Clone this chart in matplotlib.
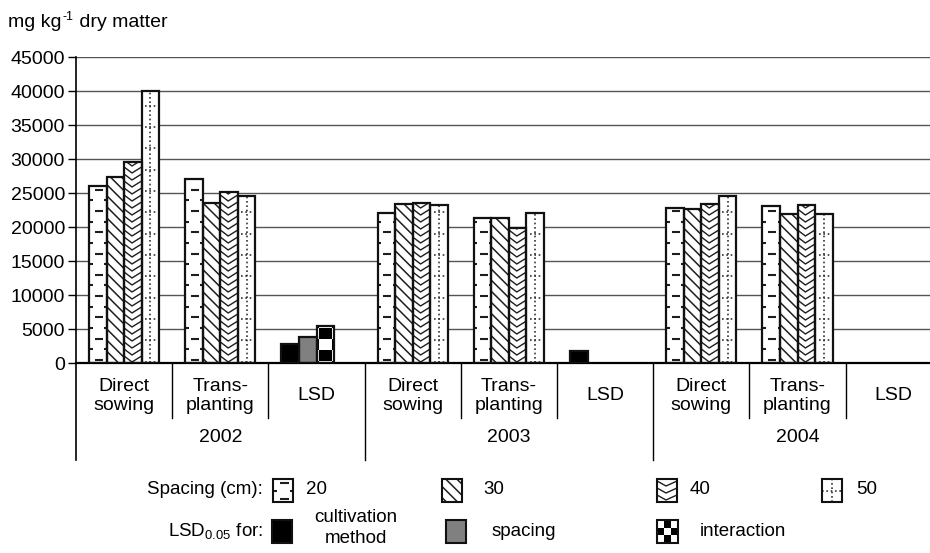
import numpy as np
import matplotlib
matplotlib.use("Agg")
import matplotlib.pyplot as plt
from matplotlib.patches import Rectangle
from matplotlib.collections import LineCollection
from matplotlib.transforms import IdentityTransform, blended_transform_factory, offset_copy

plt.rcParams['font.family'] = ['Liberation Sans', 'DejaVu Sans']
plt.rcParams['mathtext.fontset'] = 'custom'
plt.rcParams['mathtext.rm'] = 'Liberation Sans'
plt.rcParams['mathtext.it'] = 'Liberation Sans:italic'
plt.rcParams['hatch.linewidth'] = 1.1

nan = np.nan
# ---------------- data ----------------
years = ['2002', '2003', '2004']
categories = ['Direct\nsowing', 'Trans-\nplanting', 'LSD'] * 3
spacing_labels = ['20', '30', '40', '50']
s20 = [26000, 27100, nan, 22100, 21300, nan, 22800, 23100, nan]
s30 = [27300, 23500, nan, 23400, 21300, nan, 22600, 21900, nan]
s40 = [29500, 25100, nan, 23600, 19900, nan, 23400, 23200, nan]
s50 = [40000, 24600, nan, 23200, 22100, nan, 24500, 21900, nan]
lsd_labels = ['cultivation\nmethod', 'spacing', 'interaction']
lsd_cultivation = [2800, 1700, nan]   # per year
lsd_spacing = [3800, nan, nan]
lsd_interaction = [5400, nan, nan]
yticks = list(range(0, 45001, 5000))

# ---------------- layout ----------------
W, H = 930, 553
fig = plt.figure(figsize=(W / 100, H / 100), dpi=100)
ax_l, ax_r, y_zero, y_top = 76, 930, 363, 57
ax = fig.add_axes([ax_l / W, (H - y_zero) / H, (ax_r - ax_l) / W, (y_zero - y_top) / H])
cat_px = 96.2
ax.set_xlim(0, (ax_r - ax_l) / cat_px)
ax.set_ylim(0, 45000)

ax.set_axisbelow(True)
ax.yaxis.grid(True, color='#555555', linewidth=1.0)
ax.set_yticks(yticks)
ax.set_yticklabels([str(v) for v in yticks])
ax.tick_params(axis='y', direction='out', length=6, width=1.0, labelsize=14, pad=2, colors='black')
ax.set_xticks([])
for s in ['top', 'right']:
    ax.spines[s].set_visible(False)
ax.spines['left'].set_linewidth(1.2)
ax.spines['bottom'].set_linewidth(1.6)

EDGE = '#111111'
PAT = '#1e1e1e'
ID = IdentityTransform()


def add_lines(target, segs, clip, lw, ls='solid', color=PAT):
    lc = LineCollection(segs, transform=ID, colors=color, linewidths=lw,
                        linestyles=ls, capstyle='butt', zorder=2.5)
    target.add_artist(lc)
    lc.set_clip_path(clip)


def pat_dash(target, clip, x0, y0, x1, y1, base, period=10.65, start=3.0):
    w = x1 - x0
    segs = []
    j = 0
    y = base + start
    while y < y1 + 2:
        if j % 2 == 0:
            segs.append([(x0 + 0.33 * w, y), (x0 + 0.78 * w, y)])
        else:
            segs.append([(x0 - 0.2 * w, y), (x0 + 0.2 * w, y)])
            segs.append([(x0 + 0.86 * w, y), (x0 + 1.2 * w, y)])
        y += period
        j += 1
    add_lines(target, segs, clip, 1.5)


def pat_chevron(target, clip, x0, y0, x1, y1, base, period=7.0, amp=6.0):
    w = x1 - x0
    segs = []
    y = base - amp
    while y < y1 + 2:
        segs.append([(x0 - 2, y + amp * (0.45 * w + 2) / (0.45 * w)), (x0 + 0.45 * w, y),
                     (x1 + 2, y + amp * (0.55 * w + 2) / (0.55 * w))])
        y += period
    add_lines(target, segs, clip, 1.0)


def pat_dots(target, clip, x0, y0, x1, y1, base, period=21.3, start=1.5, vx=0.5, full=False):
    w = x1 - x0
    segs = [[(x0 + vx * w, y0), (x0 + vx * w, y1)]]
    y = base + start
    while y < y1 + 2:
        segs.append([(x0 + (0.0 if full else 0.2) * w, y), (x1, y)])
        y += period
    add_lines(target, segs, clip, 1.2, ls=(0, (1, 1.6)), color='#333333')


def pat_checker(target, clip, x0, y0, x1, y1, base, cw, ch, start):
    cx = (x0 + x1) / 2
    for k in range(-3, 4):
        yb = base + start - ch
        jj = -1
        while yb < y1 + ch:
            if (jj + k) % 2 == 0:
                r = Rectangle((cx + (k - 0.5) * cw, yb), cw, ch, transform=ID,
                              facecolor='black', edgecolor='none', zorder=2.5)
                target.add_artist(r)
                r.set_clip_path(clip)
            yb += ch
            jj += 1


# ---------------- bars ----------------
bw = 0.182
xc = np.arange(len(categories)) + 0.5
spacing_series = [s20, s30, s40, s50]
hatches = [None, '\\\\\\', None, None]
pattern_funcs = [pat_dash, None, pat_chevron, pat_dots]

for k, vals in enumerate(spacing_series):
    xs = xc + (k - 1.5) * bw
    bars = ax.bar(xs, vals, width=bw, facecolor='white', edgecolor=PAT, linewidth=0,
                  hatch=hatches[k], zorder=2)
    ax.bar(xs, vals, width=bw, fill=False, edgecolor=EDGE, linewidth=1.6, zorder=3)
    if pattern_funcs[k] is not None:
        for r, v in zip(bars.patches, vals):
            if np.isfinite(v):
                bb = r.get_window_extent()
                pattern_funcs[k](ax, r, bb.x0, bb.y0, bb.x1, bb.y1, bb.y0)

lsd_x = np.array([3 * i + 2.5 for i in range(len(years))])
lsd_series = [lsd_cultivation, lsd_spacing, lsd_interaction]
lsd_colors = ['black', '#808080', 'white']
for k, vals in enumerate(lsd_series):
    xs = lsd_x + (k - 1.5) * bw
    bars = ax.bar(xs, vals, width=bw, facecolor=lsd_colors[k], edgecolor='none', zorder=2)
    ax.bar(xs, vals, width=bw, fill=False, edgecolor=EDGE, linewidth=1.6, zorder=3)
    if k == 2:
        for r, v in zip(bars.patches, vals):
            if np.isfinite(v):
                bb = r.get_window_extent()
                pat_checker(ax, r, bb.x0, bb.y0, bb.x1, bb.y1, bb.y0, cw=12.7, ch=11.0, start=2.0)

# ---------------- category axis ----------------
bt = blended_transform_factory(ax.transData, ax.transAxes)
ax_h = y_zero - y_top


def ay(yimg):
    return (y_zero - yimg) / ax_h


for i in range(1, len(categories)):
    bottom = 460 if i % 3 == 0 else 418
    ax.plot([i, i], [0, ay(bottom)], transform=bt, color='black', lw=1.0, clip_on=False)
ax.plot([0, 0], [0, ay(460)], transform=bt, color='black', lw=1.2, clip_on=False)

for i, lab in enumerate(categories):
    ax.text(i + 0.5, ay(396), lab, transform=bt, ha='center', va='center', fontsize=14,
            linespacing=1.2, clip_on=False)
for i, yr in enumerate(years):
    ax.text(3 * i + 1.5, ay(438), yr, transform=bt, ha='center', va='center', fontsize=14,
            clip_on=False)

# y-axis unit label: "mg kg" + superscript "-1" + " dry matter"
renderer = fig.canvas.get_renderer()
t1 = fig.text(8 / W, 1 - 27 / H, 'mg kg', ha='left', va='baseline', fontsize=14)
e1 = t1.get_window_extent(renderer)
t2 = fig.text(e1.x1 + 1, H - 27 + 7, '-1', ha='left', va='baseline', fontsize=9, transform=ID)
e2 = t2.get_window_extent(renderer)
fig.text(e2.x1, H - 27, ' dry matter', ha='left', va='baseline', fontsize=14, transform=ID)

# ---------------- legend ----------------
def icon(x0i, y0i, x1i, y1i, face='white', hatch=None):
    x0, y0, x1, y1 = x0i, H - y1i, x1i, H - y0i
    r = Rectangle((x0, y0), x1 - x0, y1 - y0, transform=ID, facecolor=face,
                  edgecolor=PAT, linewidth=0, hatch=hatch, zorder=2)
    fig.add_artist(r)
    e = Rectangle((x0, y0), x1 - x0, y1 - y0, transform=ID, fill=False,
                  edgecolor=EDGE, linewidth=1.5, zorder=3)
    fig.add_artist(e)
    return r, x0, y0, x1, y1


LF = 13.5
fig.text(263 / W, 1 - 490 / H, 'Spacing (cm):', ha='right', va='center', fontsize=LF)
fig.text(263 / W, 1 - 531 / H, 'LSD$_{0.05}$ for:', ha='right', va='center', fontsize=LF)

icons_x = [273, 442, 657, 822]
texts_x = [306, 483, 690, 856]
for k in range(4):
    r, x0, y0, x1, y1 = icon(icons_x[k], 479, icons_x[k] + 20, 502, hatch=hatches[k])
    if k == 0:
        pat_dash(fig, r, x0, y0, x1, y1, y0, period=8.0, start=3.5)
    elif k == 2:
        pat_chevron(fig, r, x0, y0, x1, y1, y0, period=7.0, amp=5.0)
    elif k == 3:
        pat_dots(fig, r, x0, y0, x1, y1, (y0 + y1) / 2, period=100, start=0, vx=0.5, full=True)
    fig.text(texts_x[k] / W, 1 - 490 / H, spacing_labels[k], ha='left', va='center', fontsize=LF)

icon(272, 520, 292, 543, face='black')
icon(446, 520, 466, 543, face='#808080')
r, x0, y0, x1, y1 = icon(657, 520, 678, 543, face='white')
pat_checker(fig, r, x0, y0, x1, y1, y0, cw=7.0, ch=7.7, start=0.0)

fig.text(356 / W, 1 - 528 / H, lsd_labels[0], ha='center', va='center', fontsize=LF, linespacing=1.35)
fig.text(492 / W, 1 - 531 / H, lsd_labels[1], ha='left', va='center', fontsize=LF)
fig.text(700 / W, 1 - 531 / H, lsd_labels[2], ha='left', va='center', fontsize=LF)

fig.savefig('out.png', dpi=100)
